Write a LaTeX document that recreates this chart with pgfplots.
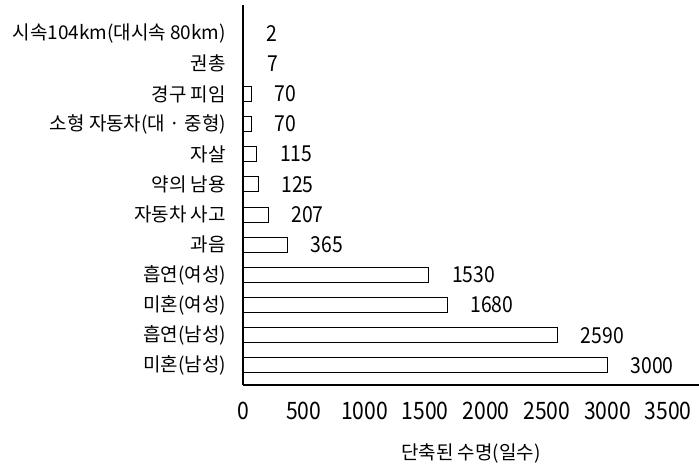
\documentclass[border=0pt]{standalone}
\usepackage{fontspec}
\setmainfont{Noto Sans CJK KR}
\newfontfamily\numfont[FakeStretch=0.88]{Noto Sans CJK KR}
\usepackage{pgfplots}
\pgfplotsset{compat=1.18}

\begin{document}
\begin{tikzpicture}
  \begin{axis}[
    name=ax,
    xbar,
    scale only axis,
    width=228pt,
    height=190pt,
    xmin=0, xmax=3753,
    ymin=-0.65, ymax=11.95,
    axis lines*=left,
    axis line style={line width=0.7pt},
    bar width=7.5pt,
    major tick length=0pt,
    xtick={0,500,...,3500},
    ytick={0,...,11},
    yticklabels={
      미혼(남성), 흡연(남성), 미혼(여성), 흡연(여성), 과음, 자동차 사고,
      약의 남용, 자살, 소형 자동차(대 · 중형), 경구 피임, 권총,
      시속104km(대시속 80km)},
    /pgf/number format/assume math mode=true,
    /pgf/number format/1000 sep={},
    xticklabel style={font=\numfont\fontsize{12}{14}\selectfont, anchor=center, yshift=-13pt},
    yticklabel style={font=\fontsize{9.5}{11}\selectfont, anchor=east, xshift=-5pt},
    xlabel={단축된 수명(일수)},
    xlabel style={font=\fontsize{9.5}{11}\selectfont, at={(axis description cs:0.5,0)}, anchor=center, yshift=-34pt},
    nodes near coords,
    point meta=x,
    every node near coord/.append style={font=\numfont\fontsize{11}{13}\selectfont, anchor=west, xshift=8pt, black},
  ]

  \addplot[draw=black, fill=white, line width=0.5pt] coordinates {
    (3000,0) (2590,1) (1680,2) (1530,3) (365,4) (207,5)
    (125,6) (115,7) (70,8) (70,9) (7,10) (2,11)
  };

  \end{axis}
  \pgfresetboundingbox
  \path (ax.south west) ++(-121.5pt,-40pt) rectangle ([yshift=2.5pt]ax.north east);
\end{tikzpicture}
\end{document}
